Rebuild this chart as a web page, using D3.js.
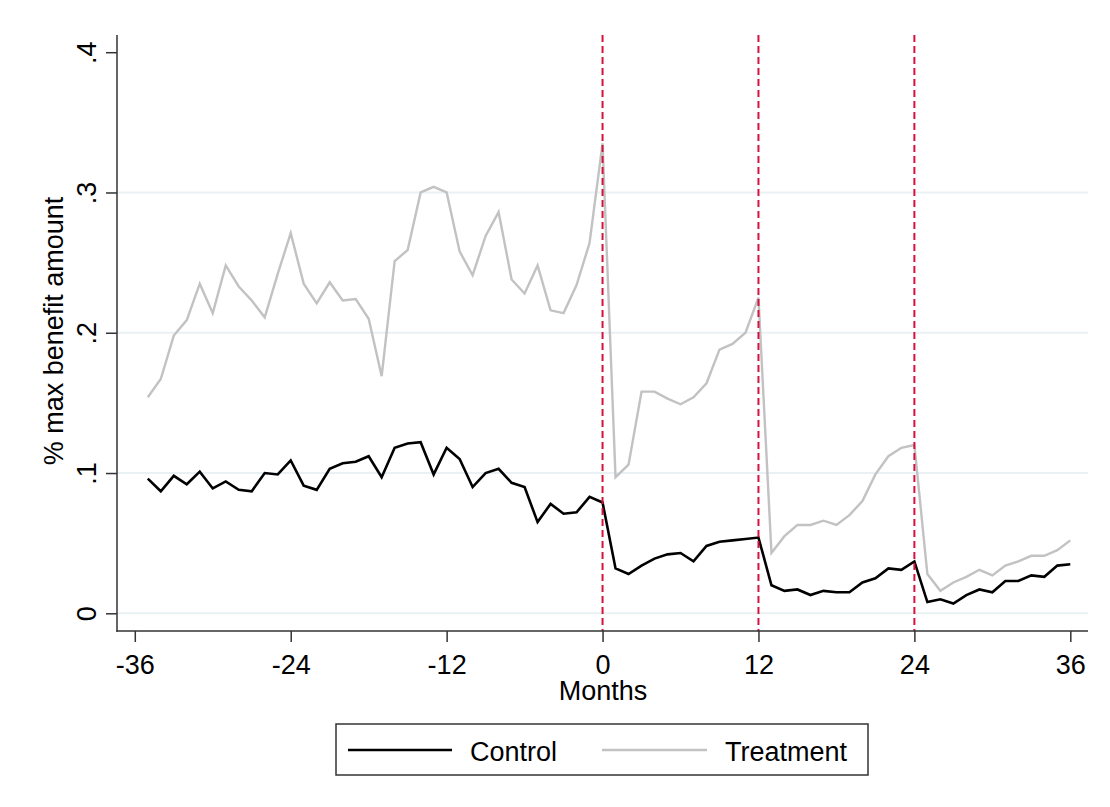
<!DOCTYPE html>
<html>
<head>
<meta charset="utf-8">
<script src="https://cdn.jsdelivr.net/npm/d3@7"></script>
<style>
  html, body { margin: 0; padding: 0; background: #fff; }
  svg { display: block; font-family: "Liberation Sans", Arial, sans-serif; }
</style>
</head>
<body>
<svg id="chart" width="1110" height="807"></svg>
<script>
// Months relative to the event
const months = [-35,-34,-33,-32,-31,-30,-29,-28,-27,-26,-25,-24,-23,-22,-21,-20,-19,-18,
  -17,-16,-15,-14,-13,-12,-11,-10,-9,-8,-7,-6,-5,-4,-3,-2,-1,0,
  1,2,3,4,5,6,7,8,9,10,11,12,13,14,15,16,17,18,
  19,20,21,22,23,24,25,26,27,28,29,30,31,32,33,34,35,36];

// Share of max benefit amount, control group
const control = [0.096,0.087,0.098,0.092,0.101,0.089,0.094,0.088,0.087,0.100,0.099,0.109,0.091,0.088,0.103,0.107,0.108,0.112,
  0.097,0.118,0.121,0.122,0.099,0.118,0.110,0.090,0.100,0.103,0.093,0.090,0.065,0.078,0.071,0.072,0.083,0.079,
  0.032,0.028,0.034,0.039,0.042,0.043,0.037,0.048,0.051,0.052,0.053,0.054,0.020,0.016,0.017,0.013,0.016,0.015,
  0.015,0.022,0.025,0.032,0.031,0.037,0.008,0.010,0.007,0.013,0.017,0.015,0.023,0.023,0.027,0.026,0.034,0.035];

// Share of max benefit amount, treatment group
const treatment = [0.154,0.167,0.198,0.209,0.235,0.214,0.248,0.233,0.223,0.211,0.242,0.271,0.235,0.221,0.236,0.223,0.224,0.210,
  0.169,0.251,0.259,0.300,0.304,0.300,0.258,0.241,0.269,0.286,0.238,0.228,0.248,0.216,0.214,0.234,0.264,0.335,
  0.097,0.106,0.158,0.158,0.153,0.149,0.154,0.164,0.188,0.192,0.200,0.225,0.043,0.055,0.063,0.063,0.066,0.063,
  0.070,0.080,0.099,0.112,0.118,0.120,0.028,0.016,0.022,0.026,0.031,0.027,0.034,0.037,0.041,0.041,0.045,0.052];

const xTicks = [-36, -24, -12, 0, 12, 24, 36];
const yTicks = [0, 0.1, 0.2, 0.3, 0.4];
const gridValues = [0, 0.1, 0.2, 0.3];
const eventMonths = [0, 12, 24];
const seriesNames = ["Control", "Treatment"];

const svg = d3.select("#chart");
const font = 27;

// Plot region
const plot = { left: 117, right: 1088, top: 35, bottom: 631 };

const x = d3.scaleLinear().domain([-36, 36]).range([134.8, 1070.3]);
const y = d3.scaleLinear().domain([0, 0.4]).range([613.3, 52.2]);

const fmtY = d => d === 0 ? "0" : d3.format(".1f")(d).replace(/^0/, "");
const fmtX = d => String(d);   // plain hyphen for negatives

// Grid lines
svg.append("g")
  .selectAll("line")
  .data(gridValues)
  .join("line")
  .attr("x1", plot.left).attr("x2", plot.right)
  .attr("y1", d => y(d)).attr("y2", d => y(d))
  .attr("stroke", "#eaf1f4")
  .attr("stroke-width", 2);

// Series lines
const line = d3.line().x(d => x(d[0])).y(d => y(d[1]));
const tData = months.map((m, i) => [m, treatment[i]]);
const cData = months.map((m, i) => [m, control[i]]);

svg.append("path")
  .datum(tData)
  .attr("d", line)
  .attr("fill", "none")
  .attr("stroke", "#c2c2c2")
  .attr("stroke-width", 2.4)
  .attr("stroke-linejoin", "miter");

svg.append("path")
  .datum(cData)
  .attr("d", line)
  .attr("fill", "none")
  .attr("stroke", "#000")
  .attr("stroke-width", 2.6)
  .attr("stroke-linejoin", "miter");

// Event markers
svg.append("g")
  .selectAll("line")
  .data(eventMonths)
  .join("line")
  .attr("x1", d => x(d)).attr("x2", d => x(d))
  .attr("y1", plot.top).attr("y2", plot.bottom)
  .attr("stroke", "#d5123f")
  .attr("stroke-width", 2)
  .attr("stroke-dasharray", "7,4");

// Axis lines
svg.append("line")
  .attr("x1", plot.left).attr("x2", plot.left)
  .attr("y1", plot.top).attr("y2", plot.bottom + 0.75)
  .attr("stroke", "#333").attr("stroke-width", 1.5);
svg.append("line")
  .attr("x1", plot.left - 0.75).attr("x2", plot.right)
  .attr("y1", plot.bottom).attr("y2", plot.bottom)
  .attr("stroke", "#333").attr("stroke-width", 1.5);

// Y axis
const yAxis = svg.append("g")
  .attr("transform", `translate(${plot.left},0)`)
  .call(d3.axisLeft(y).tickValues(yTicks).tickFormat(fmtY).tickSize(11).tickPadding(0));
yAxis.select(".domain").remove();
yAxis.selectAll(".tick line").attr("stroke", "#333").attr("stroke-width", 1.5);
yAxis.selectAll(".tick text")
  .attr("x", null).attr("dy", null).attr("y", null)
  .attr("transform", "translate(-21,0) rotate(-90)")
  .attr("text-anchor", "middle")
  .attr("fill", "#000")
  .style("font-size", font + "px")
  .style("font-family", "'Liberation Sans', Arial, sans-serif");

// X axis
const xAxis = svg.append("g")
  .attr("transform", `translate(0,${plot.bottom})`)
  .call(d3.axisBottom(x).tickValues(xTicks).tickFormat(fmtX).tickSize(11));
xAxis.select(".domain").remove();
xAxis.selectAll(".tick line").attr("stroke", "#333").attr("stroke-width", 1.5);
xAxis.selectAll(".tick text")
  .attr("y", 43).attr("dy", null)
  .attr("fill", "#000")
  .style("font-size", font + "px")
  .style("font-family", "'Liberation Sans', Arial, sans-serif");

// Axis titles
svg.append("text")
  .attr("x", (plot.left + plot.right) / 2 + 0.5)
  .attr("y", 700)
  .attr("text-anchor", "middle")
  .style("font-size", font + "px")
  .text("Months");

svg.append("text")
  .attr("transform", `translate(63,${(plot.top + plot.bottom) / 2 - 2}) rotate(-90)`)
  .attr("text-anchor", "middle")
  .style("font-size", font + "px")
  .text("% max benefit amount");

// Legend
const legend = svg.append("g");
legend.append("rect")
  .attr("x", 336).attr("y", 724)
  .attr("width", 532).attr("height", 51)
  .attr("fill", "#fff")
  .attr("stroke", "#333").attr("stroke-width", 1.5);

const legendItems = [
  { name: seriesNames[0], color: "#000", width: 2.6, x0: 348, x1: 452, tx: 470 },
  { name: seriesNames[1], color: "#c2c2c2", width: 2.4, x0: 602, x1: 707, tx: 725 }
];
legendItems.forEach(it => {
  legend.append("line")
    .attr("x1", it.x0).attr("x2", it.x1)
    .attr("y1", 750).attr("y2", 750)
    .attr("stroke", it.color).attr("stroke-width", it.width);
  legend.append("text")
    .attr("x", it.tx).attr("y", 761)
    .style("font-size", font + "px")
    .text(it.name);
});
</script>
</body>
</html>
